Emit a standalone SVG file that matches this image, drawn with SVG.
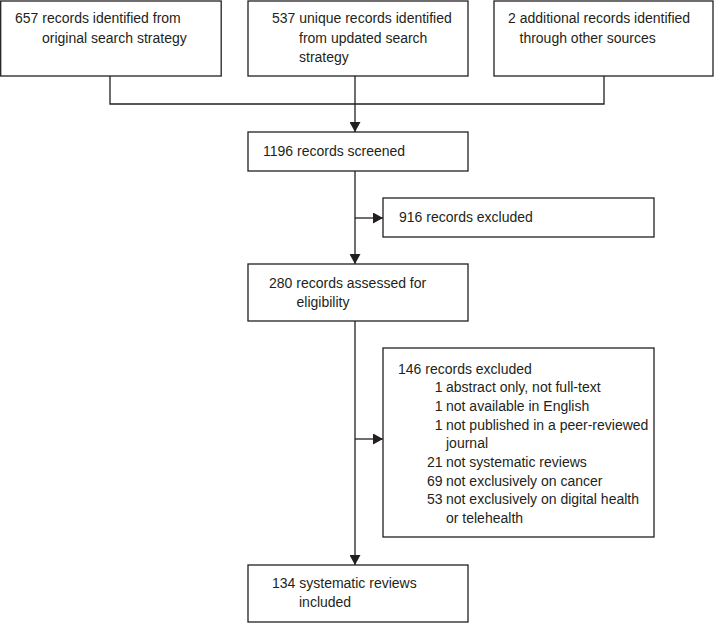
<svg xmlns="http://www.w3.org/2000/svg" width="714" height="623" viewBox="0 0 714 623">
<style>
rect.box{fill:#fff;stroke:#231f20;stroke-width:1.3}
text{font-family:"Liberation Sans",Arial,sans-serif;font-size:14px;fill:#231f20}
.conn{fill:none;stroke:#231f20;stroke-width:1.3}
.num{text-anchor:end}
</style>
<defs>
<marker id="arr" markerUnits="userSpaceOnUse" markerWidth="11" markerHeight="11" refX="10" refY="5.5" orient="auto" viewBox="0 0 11 11">
<path d="M0,0 L10,5.5 L0,11 z" fill="#231f20"/>
</marker>
</defs>
<g id="connectors">
<path class="conn" d="M110,76 V104 H604 V76"/>
<path class="conn" d="M355,76 V132" marker-end="url(#arr)"/>
<path class="conn" d="M355,171 V264" marker-end="url(#arr)"/>
<path class="conn" d="M355,218 H383" marker-end="url(#arr)"/>
<path class="conn" d="M355,321 V565" marker-end="url(#arr)"/>
<path class="conn" d="M355,439 H383" marker-end="url(#arr)"/>
</g>
<g id="n1">
<rect class="box" x="0.7" y="1" width="220.5" height="75"/>
<text x="15" y="23">657 records identified from</text>
<text x="42" y="43">original search strategy</text>
</g>
<g id="n2">
<rect class="box" x="248" y="1" width="220" height="75"/>
<text x="272" y="23">537 unique records identified</text>
<text x="299" y="42.5">from updated search</text>
<text x="299" y="62">strategy</text>
</g>
<g id="n3">
<rect class="box" x="494" y="1" width="219" height="75"/>
<text x="508" y="23">2 additional records identified</text>
<text x="519.5" y="43">through other sources</text>
</g>
<g id="n4">
<rect class="box" x="248" y="132" width="220" height="39"/>
<text x="263" y="156">1196 records screened</text>
</g>
<g id="n5">
<rect class="box" x="383" y="198" width="271" height="39"/>
<text x="399" y="222">916 records excluded</text>
</g>
<g id="n6">
<rect class="box" x="248" y="264" width="220" height="57"/>
<text x="269" y="288">280 records assessed for</text>
<text x="296.5" y="307">eligibility</text>
</g>
<g id="n7">
<rect class="box" x="383" y="348" width="271" height="189"/>
<text x="398" y="373.5">146 records excluded</text>
<text class="num" x="442.5" y="392.2">1</text><text x="446" y="392.2">abstract only, not full-text</text>
<text class="num" x="442.5" y="410.9">1</text><text x="446" y="410.9">not available in English</text>
<text class="num" x="442.5" y="429.6">1</text><text x="446" y="429.6">not published in a peer-reviewed</text>
<text x="446" y="448.3">journal</text>
<text class="num" x="442.5" y="467">21</text><text x="446" y="467">not systematic reviews</text>
<text class="num" x="442.5" y="485.7">69</text><text x="446" y="485.7">not exclusively on cancer</text>
<text class="num" x="442.5" y="504.4">53</text><text x="446" y="504.4">not exclusively on digital health</text>
<text x="446" y="523.1">or telehealth</text>
</g>
<g id="n8">
<rect class="box" x="248" y="565" width="220" height="57"/>
<text x="272" y="588">134 systematic reviews</text>
<text x="299" y="607">included</text>
</g>
</svg>
